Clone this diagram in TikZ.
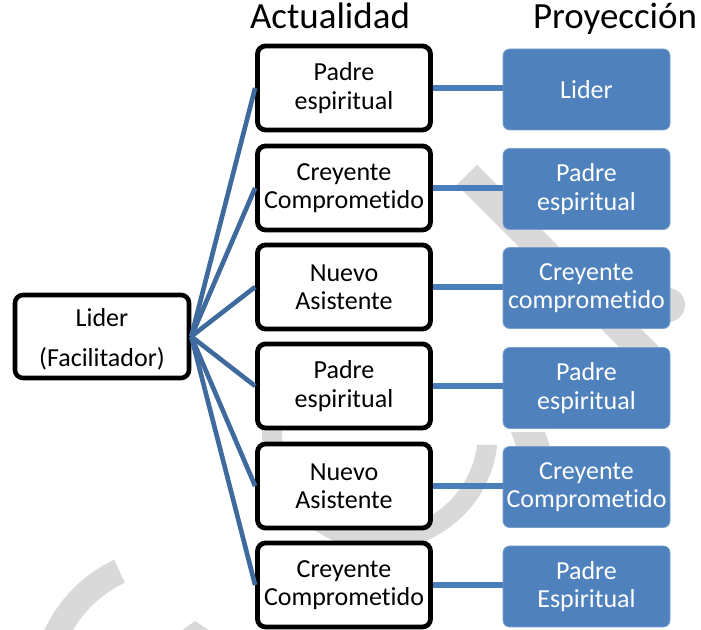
\documentclass[tikz,border=0pt]{standalone}
\usepackage{fontspec}
\setmainfont{Carlito}[Ligatures={NoCommon}]
\definecolor{boxblue}{HTML}{4F81BD}
\definecolor{fanblue}{HTML}{3F6A9E}
\definecolor{linkblue}{HTML}{4A7EBB}
\definecolor{wm}{HTML}{D9D9D9}
\newcommand{\lowertxt}[1]{\raisebox{-2.4pt}[\height][\depth]{#1}}
\begin{document}
\begin{tikzpicture}[x=0.75pt,y=-0.75pt,
  oldbox/.style={draw=black, line width=3.6pt, rounded corners=6pt, fill=white,
    minimum width=129.75pt, minimum height=63pt, inner sep=0pt, align=center,
    font=\fontsize{19.5}{21.3}\selectfont},
  newbox/.style={draw=boxblue!75!white, line width=0.6pt, rounded corners=5pt, fill=boxblue,
    text=white, minimum width=125.25pt, minimum height=60.75pt, inner sep=0pt, align=center,
    font=\fontsize{19.5}{21.3}\selectfont},
  rootbox/.style={draw=black, line width=3.4pt, rounded corners=6pt, fill=white,
    minimum width=130.5pt, minimum height=62.25pt, inner sep=0pt, align=center,
    font=\fontsize{19.5}{30}\selectfont},
  head/.style={font=\fontsize{27.7}{30}\selectfont, anchor=base, inner sep=0pt},
  fan/.style={draw=fanblue, line width=3.5pt},
  link/.style={draw=linkblue, line width=4pt},
  wmark/.style={fill=wm, draw=none}
]
\useasboundingbox (0,0) rectangle (701,630);
\begin{scope}
\clip (0,0) rectangle (701,630);
% watermark pieces
\fill[wmark] (477,165) -- (457,185) -- (619,347) -- (659,347) -- cycle;
\fill[wmark] (668,305) circle[radius=17];
\fill[wmark] (511,432) -- (545,432) -- (550,446) -- (516,446) -- cycle;
\begin{scope}
  \clip (250,360) rectangle (380,600) (380,445) rectangle (520,600);
  \draw[wm, line width=15pt] (380,432) circle[radius=108];
\end{scope}
\begin{scope}
  \clip (175,690) -- (48,418) -- (-200,418) -- (-200,700) -- cycle;
  \draw[wm, line width=19pt] (175,690) circle[radius=131];
\end{scope}
\fill[wmark] (195,621) -- (181,631) -- (210,631) -- cycle;
\end{scope}

% headers
\node[head] (h1) at (330,29) {Actualidad};
\node[head] (h2) at (615,29) {Proyección};

% root
\node[rootbox] (root) at (102,336.5) {\lowertxt{Lider}\\\lowertxt{(Facilitador)}};

% current column
\node[oldbox] (m1) at (344,88)  {Padre\\espiritual};
\node[oldbox] (m2) at (344,188) {Creyente\\Comprometido};
\node[oldbox] (m3) at (344,287) {Nuevo\\Asistente};
\node[oldbox] (m4) at (344,386) {Padre\\espiritual};
\node[oldbox] (m5) at (344,486) {Nuevo\\Asistente};
\node[oldbox] (m6) at (344,585) {Creyente\\Comprometido};

% projection column
\node[newbox] (p1) at (586.5,89.5) {Lider};
\node[newbox] (p2) at (586.5,189)  {Padre\\espiritual};
\node[newbox] (p3) at (586.5,288)  {Creyente\\comprometido};
\node[newbox] (p4) at (586.5,388)  {Padre\\espiritual};
\node[newbox] (p5) at (586.5,487)  {Creyente\\Comprometido};
\node[newbox] (p6) at (586.5,586.5){Padre\\Espiritual};

% connectors
\foreach \i in {1,...,6}{
  \draw[fan] (root.east) -- (m\i.west);
  \draw[link] (m\i.east) -- (m\i.east -| p\i.west);
}
\end{tikzpicture}
\end{document}
